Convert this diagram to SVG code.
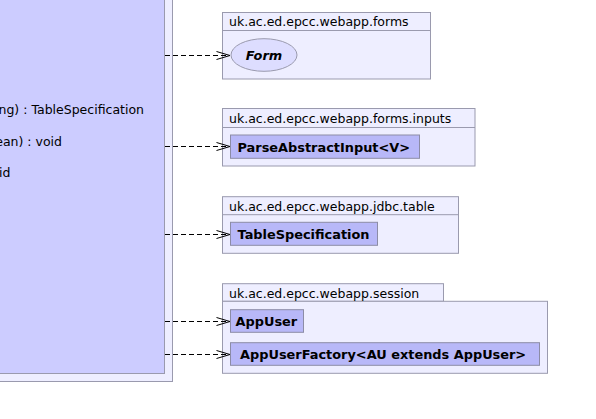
<svg xmlns="http://www.w3.org/2000/svg" width="596" height="419" viewBox="0 0 596 419">
<style>
.pkg{fill:#EEEEFF;stroke:#9A9AAE;stroke-width:1}
.cls{fill:#B8B8F8;stroke:#8C8CA6;stroke-width:1}
.lbl{font-family:"DejaVu Sans",sans-serif;font-size:12.5px;fill:#000}
.cn{font-family:"DejaVu Sans",sans-serif;font-size:12.9px;font-weight:bold;fill:#000}
.dep{fill:none;stroke:#000;stroke-width:1;stroke-dasharray:5,3}
.head{fill:none;stroke:#000;stroke-width:1}
</style>
<rect width="596" height="419" fill="#FFFFFF"/>
<g id="main">
<rect x="-10" y="-10" width="182.5" height="391.5" class="pkg"/>
<rect x="-10" y="-10" width="174.5" height="383.5" fill="#CCCCFF" stroke="#9A9AAE"/>
<text class="lbl" x="144" y="114" text-anchor="end">ng) : TableSpecification</text>
<text class="lbl" x="62" y="146" text-anchor="end">ean) : void</text>
<text class="lbl" x="10.5" y="177" text-anchor="end">id</text>
</g>
<g id="pkg-forms">
<rect x="222.5" y="12.5" width="208" height="66.5" class="pkg"/>
<line x1="222.5" y1="30.5" x2="430.5" y2="30.5" stroke="#9A9AAE"/>
<text class="lbl" x="229" y="26">uk.ac.ed.epcc.webapp.forms</text>
</g>
<g id="Form">
<ellipse cx="264" cy="55" rx="33" ry="16.3" fill="#DDDDFF" stroke="#9A9AAE"/>
<text class="cn" x="264" y="59.5" text-anchor="middle" font-style="italic" font-size="13.5px">Form</text>
</g>
<g id="pkg-inputs">
<rect x="222.5" y="108.5" width="252.5" height="57.5" class="pkg"/>
<line x1="222.5" y1="127.5" x2="475" y2="127.5" stroke="#9A9AAE"/>
<text class="lbl" x="229" y="123">uk.ac.ed.epcc.webapp.forms.inputs</text>
</g>
<g id="ParseAbstractInput">
<rect x="230.5" y="135" width="189" height="23.3" class="cls"/>
<text class="cn" x="237.5" y="151.5">ParseAbstractInput&lt;V&gt;</text>
</g>
<g id="pkg-table">
<rect x="222.5" y="196.7" width="236" height="56.6" class="pkg"/>
<line x1="222.5" y1="214.7" x2="458.5" y2="214.7" stroke="#9A9AAE"/>
<text class="lbl" x="229" y="210.5">uk.ac.ed.epcc.webapp.jdbc.table</text>
</g>
<g id="TableSpecification">
<rect x="230.5" y="222.3" width="147" height="23" class="cls"/>
<text class="cn" x="237.5" y="239">TableSpecification</text>
</g>
<g id="pkg-session">
<rect x="222.5" y="283.7" width="221" height="17.6" class="pkg"/>
<rect x="222.5" y="301.3" width="325" height="72" class="pkg"/>
<text class="lbl" x="229" y="297.5">uk.ac.ed.epcc.webapp.session</text>
</g>
<g id="AppUser">
<rect x="230.5" y="309.7" width="73" height="22.6" class="cls"/>
<text class="cn" x="235.5" y="326">AppUser</text>
</g>
<g id="AppUserFactory">
<rect x="230.5" y="342.7" width="309" height="22.6" class="cls"/>
<text class="cn" x="240" y="359">AppUserFactory&lt;AU extends AppUser&gt;</text>
</g>
<g id="connectors">
<line class="dep" x1="165" y1="55.5" x2="229" y2="55.5"/>
<polyline class="head" points="216.5,51.5 230,55.5 216.5,59.5"/>
<line class="dep" x1="165" y1="146.5" x2="229" y2="146.5"/>
<polyline class="head" points="216.5,142.5 230,146.5 216.5,150.5"/>
<line class="dep" x1="165" y1="234.5" x2="229" y2="234.5"/>
<polyline class="head" points="216.5,230.5 230,234.5 216.5,238.5"/>
<line class="dep" x1="165" y1="321.5" x2="229" y2="321.5"/>
<polyline class="head" points="216.5,317.5 230,321.5 216.5,325.5"/>
<line class="dep" x1="165" y1="354.5" x2="229" y2="354.5"/>
<polyline class="head" points="216.5,350.5 230,354.5 216.5,358.5"/>
</g>
</svg>
